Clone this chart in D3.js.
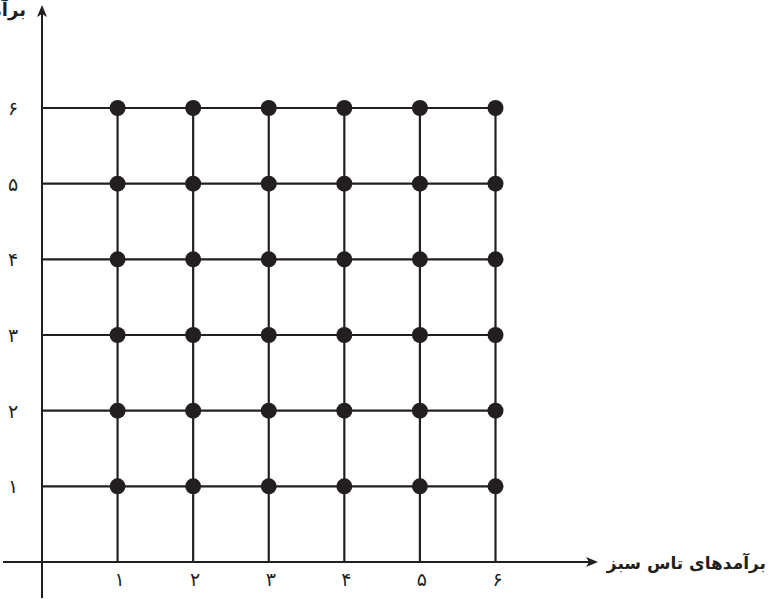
<!DOCTYPE html>
<html>
<head>
<meta charset="utf-8">
<script src="https://cdn.jsdelivr.net/npm/d3@7/dist/d3.min.js"></script>
<style>
  html, body { margin: 0; padding: 0; background: #fff; }
  svg { display: block; }
  text { font-family: "DejaVu Sans", sans-serif; fill: #231f20; }
</style>
</head>
<body>
<svg id="chart" width="770" height="599"></svg>
<script>
// ---- data ----
const greenOutcomes = [1, 2, 3, 4, 5, 6];          // x categories
const redOutcomes = [1, 2, 3, 4, 5, 6];            // y categories
const xTickLabels = ["۱", "۲", "۳", "۴", "۵", "۶"];
const yTickLabels = ["۱", "۲", "۳", "۴", "۵", "۶"];
const xAxisTitle = "برآمدهای تاس سبز";
const yAxisTitle = "برآمدهای تاس قرمز";

// ---- layout ----
const ink = "#231f20";
const svg = d3.select("#chart");
const x = d3.scaleLinear().domain([0, 6]).range([42, 495.5]);
const y = d3.scaleLinear().domain([0, 6]).range([562, 108]);

// grid lines (horizontal rows from y axis to last column)
svg.append("g").selectAll("line").data(redOutcomes).join("line")
  .attr("x1", x(0)).attr("x2", x(d3.max(greenOutcomes)))
  .attr("y1", d => y(d)).attr("y2", d => y(d))
  .attr("stroke", ink).attr("stroke-width", 2.2);

// vertical columns from x axis to top row
svg.append("g").selectAll("line").data(greenOutcomes).join("line")
  .attr("x1", d => x(d)).attr("x2", d => x(d))
  .attr("y1", y(0)).attr("y2", y(d3.max(redOutcomes)))
  .attr("stroke", ink).attr("stroke-width", 2.2);

// axes
const xEnd = 598, yTop = 5;
svg.append("line").attr("x1", 3).attr("x2", xEnd - 8).attr("y1", y(0)).attr("y2", y(0))
  .attr("stroke", ink).attr("stroke-width", 2);
svg.append("line").attr("x1", x(0)).attr("x2", x(0)).attr("y1", 598).attr("y2", yTop + 8)
  .attr("stroke", ink).attr("stroke-width", 2);

// arrowheads
svg.append("path")
  .attr("d", `M${xEnd},${y(0)} L${xEnd - 12},${y(0) - 5} L${xEnd - 9},${y(0)} L${xEnd - 12},${y(0) + 5} Z`)
  .attr("fill", ink);
svg.append("path")
  .attr("d", `M${x(0)},${yTop} L${x(0) - 5},${yTop + 12} L${x(0)},${yTop + 9} L${x(0) + 5},${yTop + 12} Z`)
  .attr("fill", ink);

// points (all outcome pairs)
const pairs = d3.cross(greenOutcomes, redOutcomes);
svg.append("g").selectAll("circle").data(pairs).join("circle")
  .attr("cx", d => x(d[0])).attr("cy", d => y(d[1]))
  .attr("r", 8).attr("fill", ink);

// tick labels
svg.append("g").selectAll("text").data(greenOutcomes).join("text")
  .attr("x", d => x(d) + 2).attr("y", y(0) + 24)
  .attr("text-anchor", "middle").attr("font-size", 19)
  .text((d, i) => xTickLabels[i]);

svg.append("g").selectAll("text").data(redOutcomes).join("text")
  .attr("x", 13).attr("y", d => y(d) + 7)
  .attr("text-anchor", "middle").attr("font-size", 19)
  .text((d, i) => yTickLabels[i]);

// axis titles
svg.append("text").attr("x", 766).attr("y", y(0) + 7)
  .attr("text-anchor", "end").attr("font-size", 17).attr("font-weight", "bold")
  .text(xAxisTitle);
svg.append("text").attr("x", 26).attr("y", 16)
  .attr("text-anchor", "end").attr("font-size", 18).attr("font-weight", "bold")
  .text(yAxisTitle);
</script>
</body>
</html>
